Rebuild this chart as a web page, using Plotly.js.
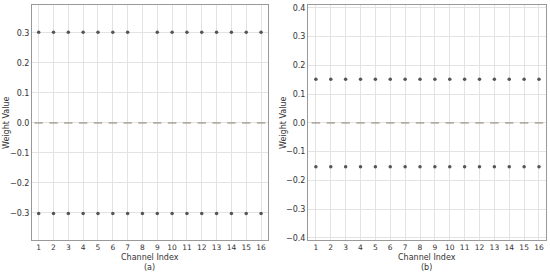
<!DOCTYPE html>
<html>
<head>
<meta charset="utf-8">
<script src="https://cdn.plot.ly/plotly-3.0.1.min.js"></script>
<style>body{margin:0;background:#fff}#chart{width:550px;height:273px}</style>
</head>
<body>
<div id="chart"></div>
<script>
var channels = [1,2,3,4,5,6,7,8,9,10,11,12,13,14,15,16];
// panel (a)
var aPos = [0.302,0.302,0.302,0.302,0.302,0.302,0.302,null,0.302,0.302,0.302,0.302,0.302,0.302,0.302,0.302];
var aZero = [0,0,0,0,0,0,0,0,0,0,0,0,0,0,0,0];
var aNeg = [-0.302,-0.302,-0.302,-0.302,-0.302,-0.302,-0.302,-0.302,-0.302,-0.302,-0.302,-0.302,-0.302,-0.302,-0.302,-0.302];
// panel (b)
var bPos = [0.152,0.152,0.152,0.152,0.152,0.152,0.152,0.152,0.152,0.152,0.152,0.152,0.152,0.152,0.152,0.152];
var bZero = [0,0,0,0,0,0,0,0,0,0,0,0,0,0,0,0];
var bNeg = [-0.152,-0.152,-0.152,-0.152,-0.152,-0.152,-0.152,-0.152,-0.152,-0.152,-0.152,-0.152,-0.152,-0.152,-0.152,-0.152];

function dots(y, xa, ya) {
    return { x: channels, y: y, xaxis: xa, yaxis: ya, mode: 'markers', type: 'scatter',
        marker: { size: 3.5, color: '#555' }, showlegend: false };
}
function dashes(y, xa, ya) {
    return { x: channels, y: y, xaxis: xa, yaxis: ya, mode: 'markers', type: 'scatter',
        marker: { symbol: 'line-ew', size: 6, line: { width: 1.2, color: '#9a8f80' } }, showlegend: false };
}

var data = [
    dots(aPos, 'x', 'y'), dashes(aZero, 'x', 'y'), dots(aNeg, 'x', 'y'),
    dots(bPos, 'x2', 'y2'), dashes(bZero, 'x2', 'y2'), dots(bNeg, 'x2', 'y2')
];

var font = { family: 'DejaVu Sans', size: 8, color: '#333' };
var tickFont = { family: 'DejaVu Sans', size: 7.5, color: '#333' };
var xbase = {
    tickvals: channels, ticks: '', gridcolor: '#e3e3e3', gridwidth: 1, zeroline: false,
    showline: true, mirror: true, linecolor: '#999', linewidth: 1, tickfont: tickFont
};
var ybase = {
    dtick: 0.1, ticks: '', gridcolor: '#e3e3e3', gridwidth: 1, zeroline: false,
    showline: true, mirror: true, linecolor: '#999', linewidth: 1,
    tickformat: '.1f', tickfont: font
};

function label(text, x, y, angle) {
    return { text: text, xref: 'paper', yref: 'paper', x: x, y: y, xanchor: 'center', yanchor: 'middle',
        textangle: angle || 0, showarrow: false, font: font };
}

var layout = {
    width: 550, height: 273,
    margin: { l: 0, r: 0, t: 0, b: 0 },
    paper_bgcolor: '#fff', plot_bgcolor: '#fff',
    font: font,
    xaxis: Object.assign({}, xbase, { domain: [0.0582, 0.4873], range: [0.55, 16.47], anchor: 'y' }),
    yaxis: Object.assign({}, ybase, { domain: [0.1209, 0.9817], range: [-0.39, 0.393], anchor: 'x' }),
    xaxis2: Object.assign({}, xbase, { domain: [0.56, 0.9927], range: [0.47, 16.47], anchor: 'y2' }),
    yaxis2: Object.assign({}, ybase, { domain: [0.1209, 0.9817], range: [-0.407, 0.41], anchor: 'x2' }),
    annotations: [
        label('Channel Index', 0.272, 1 - 257 / 273),
        label('Channel Index', 0.776, 1 - 257 / 273),
        label('(a)', 0.272, 1 - 267 / 273),
        label('(b)', 0.776, 1 - 267 / 273),
        label('Weight Value', 7 / 550, 1 - 123 / 273, -90),
        label('Weight Value', 284 / 550, 1 - 123 / 273, -90)
    ]
};

Plotly.newPlot('chart', data, layout, { displayModeBar: false, staticPlot: true });
</script>
</body>
</html>
